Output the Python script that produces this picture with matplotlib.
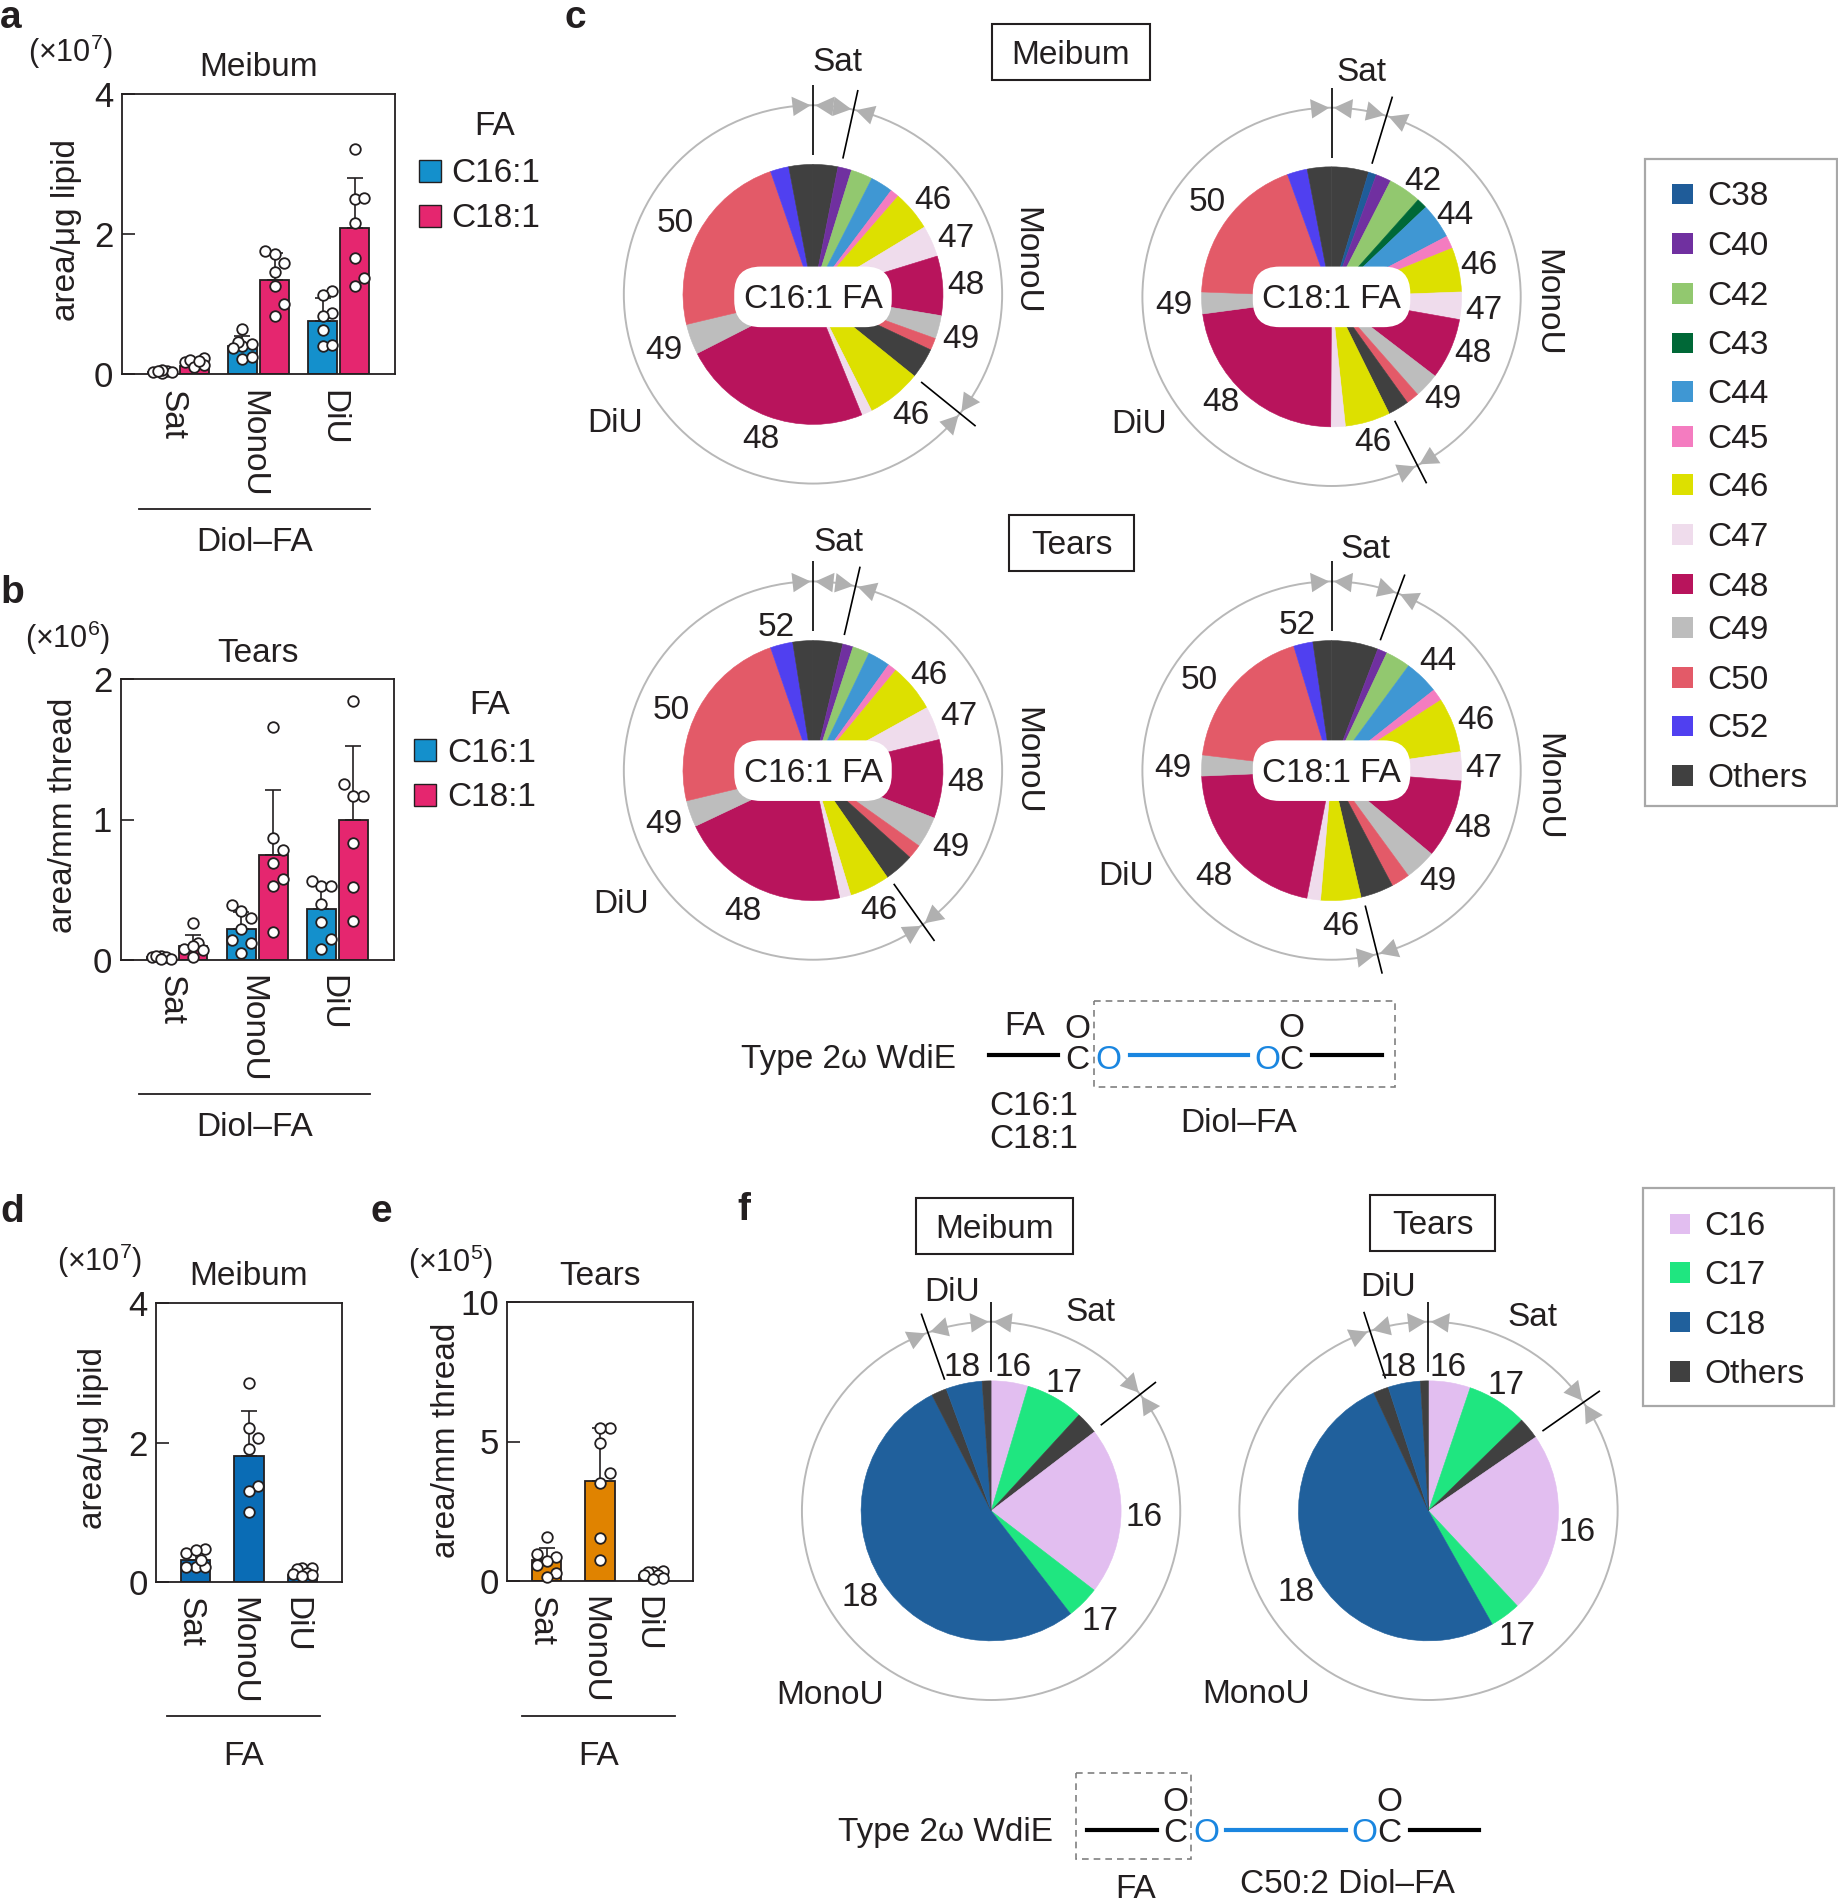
#!/usr/bin/python3

import numpy as np
import matplotlib
matplotlib.use('Agg')
import matplotlib.pyplot as plt
from matplotlib.patches import Rectangle, FancyBboxPatch, Circle, Polygon

plt.rcParams['font.family'] = ['Liberation Sans', 'DejaVu Sans']
plt.rcParams['mathtext.fontset'] = 'custom'
plt.rcParams['mathtext.rm'] = 'Liberation Sans'
plt.rcParams['mathtext.default'] = 'regular'

W, H = 1838, 1900
VIEW_W, VIEW_H = 1517, 1568     # overlay texts are placed in this coordinate system
S = W / VIEW_W
INK = '#231f20'
FS = 24

groups = ['Sat', 'MonoU', 'DiU']

# panel a, meibum, x1e7
a_c16_mean = [0.03, 0.41, 0.76]
a_c16_err = [0.02, 0.14, 0.33]
a_c16_pts = [[0.05, 0.04, 0.02, 0.03, 0.06, 0.05],
             [0.64, 0.41, 0.46, 0.44, 0.38, 0.22, 0.25],
             [1.19, 1.13, 0.88, 0.83, 0.63, 0.41, 0.42]]
a_c18_mean = [0.12, 1.35, 2.08]
a_c18_err = [0.07, 0.38, 0.72]
a_c18_pts = [[0.24, 0.17, 0.21, 0.11, 0.14, 0.19],
             [1.76, 1.71, 1.59, 1.46, 1.26, 1.0, 0.83],
             [3.21, 2.5, 2.51, 2.16, 1.66, 1.26, 1.37]]

# panel b, tears, x1e6
b_c16_mean = [0.02, 0.22, 0.36]
b_c16_err = [0.01, 0.12, 0.18]
b_c16_pts = [[0.02, 0.03, 0.03, 0.02, 0.01, 0.01],
             [0.39, 0.35, 0.3, 0.22, 0.14, 0.12, 0.05],
             [0.56, 0.53, 0.53, 0.4, 0.27, 0.15, 0.08]]
b_c18_mean = [0.1, 0.75, 1.0]
b_c18_err = [0.08, 0.46, 0.52]
b_c18_pts = [[0.26, 0.12, 0.08, 0.07, 0.02, 0.1],
             [1.66, 0.87, 0.78, 0.69, 0.58, 0.53, 0.2],
             [1.84, 1.25, 1.17, 1.17, 0.83, 0.52, 0.28]]

# panel d, meibum, x1e7
d_mean = [0.31, 1.80, 0.1]
d_err = [0.1, 0.65, 0.04]
d_pts = [[0.41, 0.47, 0.46, 0.22, 0.22, 0.22, 0.32],
         [2.85, 2.21, 2.07, 1.9, 1.37, 1.31, 1.0],
         [0.2, 0.2, 0.18, 0.13, 0.12, 0.1, 0.09]]

# panel e, tears, x1e5
e_mean = [0.74, 3.59, 0.2]
e_err = [0.46, 1.91, 0.1]
e_pts = [[1.56, 0.95, 0.85, 0.71, 0.58, 0.3, 0.16],
         [5.5, 5.5, 4.96, 3.86, 3.52, 1.53, 0.75],
         [0.35, 0.33, 0.32, 0.22, 0.2, 0.12, 0.07]]

# pie shares in percent, clockwise from the top
c_colors = {'C38': '#1f5c99', 'C40': '#7030a0', 'C42': '#92c86f', 'C43': '#006837',
            'C44': '#3f97d3', 'C45': '#f47cc0', 'C46': '#dde000', 'C47': '#efdcec',
            'C48': '#b8145c', 'C49': '#bdbdbd', 'C50': '#e35a68', 'C52': '#5040f0',
            'Others': '#404040'}
c_legend = ['C38', 'C40', 'C42', 'C43', 'C44', 'C45', 'C46', 'C47', 'C48', 'C49',
            'C50', 'C52', 'Others']
c_legend_y = [160, 201, 242, 283, 323, 360, 400, 441, 482, 518, 559, 599, 640]

f_colors = {'C16': '#e2bef0', 'C17': '#1fe680', 'C18': '#20609c', 'Others': '#404040'}
f_legend = ['C16', 'C17', 'C18', 'Others']
f_legend_y = [1010, 1050, 1091, 1132]

keys_c16 = ['Others', 'C40', 'C42', 'C44', 'C45', 'C46', 'C47', 'C48', 'C49', 'C50',
            'Others', 'C46', 'C47', 'C48', 'C49', 'C50', 'C52', 'Others']
keys_c18_meibum = ['Others', 'C38', 'C40', 'C42', 'C43', 'C44', 'C45', 'C46', 'C47', 'C48',
                   'C49', 'C50', 'Others', 'C46', 'C47', 'C48', 'C49', 'C50', 'C52', 'Others']
keys_f = ['C16', 'C17', 'Others', 'C16', 'C17', 'C18', 'Others', 'C18', 'Others']

meibum_c16 = [3.1, 1.7, 2.7, 2.8, 1.1, 5.0, 3.9, 7.4, 2.9, 1.5, 3.8, 6.8, 1.3, 23.7, 3.8, 23.5, 2.3, 3.0]
meibum_c18 = [4.6, 1.0, 1.9, 4.1, 1.3, 4.4, 1.6, 5.5, 3.4, 7.6, 3.1, 1.6, 2.6, 5.6, 1.8, 22.8, 2.7, 18.9, 2.5, 3.0]
tears_c16 = [3.7, 1.3, 2.1, 2.8, 1.1, 6.0, 4.2, 9.8, 3.9, 1.8, 3.7, 5.0, 1.4, 21.3, 3.3, 23.5, 2.8, 2.5]
tears_c18 = [5.8, 1.2, 3.1, 4.3, 1.5, 6.8, 3.6, 9.8, 3.9, 2.3, 4.1, 5.0, 1.7, 21.3, 2.6, 18.4, 2.4, 2.3]
f_meibum = [4.6, 7.2, 2.8, 20.8, 4.1, 52.9, 1.9, 4.5, 1.1]
f_tears = [5.2, 7.5, 2.7, 22.6, 3.8, 51.2, 1.9, 4.0, 1.0]

# class borders on the ring, degrees clockwise from the top
borders_meibum_c16 = [0, 12.4, 129]
borders_meibum_c18 = [0, 16.9, 153]
borders_tears_c16 = [0, 13, 144.5]
borders_tears_c18 = [0, 20.5, 166]
borders_f_meibum = [0, 52, 340.5]
borders_f_tears = [0, 55, 342]


fig = plt.figure(figsize=(W / 100, H / 100), dpi=100, facecolor='white')


def box_axes(x0, y0, x1, y1):
    # box in figure pixels, y going down
    return fig.add_axes([x0 / W, 1 - y1 / H, (x1 - x0) / W, (y1 - y0) / H])


def swarm(vals, ax, d=9.5, dy_min=13):
    # points stay inside three columns and overlap when crowded, like the original
    pos = ax.get_position()
    y_px = pos.height * H / (ax.get_ylim()[1] - ax.get_ylim()[0])
    x_px = pos.width * W / (ax.get_xlim()[1] - ax.get_xlim()[0])
    vals = np.asarray(vals, dtype=float)
    offs = np.zeros(len(vals))
    done = []
    for i in np.argsort(vals):
        best, best_gap = 0, -1
        for k in [0, 1, -1, 0.5, -0.5]:
            gap = 9.9
            for j in done:
                dx = (k * d - offs[j]) / d
                dy = (vals[i] - vals[j]) * y_px / dy_min
                gap = min(gap, dx * dx + dy * dy)
            if gap >= 0.99:
                best = k
                break
            if gap > best_gap:
                best, best_gap = k, gap
        offs[i] = best * d
        done.append(i)
    return offs / x_px


def draw_bars(ax, xs, means, errs, pts, color, width):
    ax.bar(xs, means, width=width, color=color, edgecolor=INK, linewidth=1.3, zorder=2)
    for x, m, e, p in zip(xs, means, errs, pts):
        ax.errorbar([x], [m], yerr=[[0], [e]], color=INK, elinewidth=1.2, capsize=5.5,
                    capthick=1.2, zorder=3)
        ax.scatter(x + swarm(p, ax), p, s=58, facecolor='white', edgecolor=INK,
                   linewidth=1.3, zorder=4, clip_on=False)


def style_axes(ax, xlim, ymax, ticks):
    ax.set_xlim(*xlim)
    ax.set_ylim(0, ymax)
    ax.set_yticks(ticks)
    ax.set_yticklabels([str(t) for t in ticks], fontsize=FS + 1, color=INK)
    # labels sit about 6 px left of the group centres; ticks have no length
    shift = 6 * (xlim[1] - xlim[0]) / (ax.get_position().width * W)
    ax.set_xticks(np.arange(3) - shift)
    ax.set_xticklabels(groups, rotation=-90, fontsize=FS, color=INK, ha='center', va='top')
    ax.tick_params(axis='x', length=0, pad=11)
    ax.tick_params(axis='y', direction='in', length=9.5, width=1.2, pad=6, color=INK)
    for sp in ax.spines.values():
        sp.set_linewidth(1.3)
        sp.set_color(INK)


# bar panels
ax_a = box_axes(121.7, 93.6, 395.3, 374.4)
style_axes(ax_a, (-0.706, 2.706), 4, [0, 2, 4])
draw_bars(ax_a, np.arange(3) - 0.2, a_c16_mean, a_c16_err, a_c16_pts, '#1490cc', 0.358)
draw_bars(ax_a, np.arange(3) + 0.2, a_c18_mean, a_c18_err, a_c18_pts, '#e5266f', 0.358)

ax_b = box_axes(120.5, 679, 394, 960)
style_axes(ax_b, (-0.706, 2.706), 2, [0, 1, 2])
draw_bars(ax_b, np.arange(3) - 0.2, b_c16_mean, b_c16_err, b_c16_pts, '#1490cc', 0.358)
draw_bars(ax_b, np.arange(3) + 0.2, b_c18_mean, b_c18_err, b_c18_pts, '#e5266f', 0.358)

ax_d = box_axes(156, 1303, 342, 1582)
style_axes(ax_d, (-0.75, 2.75), 4, [0, 2, 4])
draw_bars(ax_d, np.arange(3), d_mean, d_err, d_pts, '#0a6cb5', 0.55)

ax_e = box_axes(507, 1302, 693, 1581)
style_axes(ax_e, (-0.75, 2.75), 10, [0, 5, 10])
draw_bars(ax_e, np.arange(3), e_mean, e_err, e_pts, '#e08300', 0.55)


def draw_pie(cx, cy, sizes, keys, palette, borders):
    # cx, cy in overlay coordinates; pie radius is 130 figure pixels
    half = 1.7 * 130
    ax = box_axes(cx * S - half, cy * S - half, cx * S + half, cy * S + half)
    wedges, _ = ax.pie(sizes, colors=[palette[k] for k in keys], startangle=90, counterclock=False,
                       radius=1)
    for w in wedges:
        w.set_edgecolor(w.get_facecolor())
        w.set_linewidth(0.4)
    ax.set_xlim(-1.7, 1.7)
    ax.set_ylim(-1.7, 1.7)
    ax.set_aspect('equal')
    ax.axis('off')
    ax.add_patch(Circle((0, 0), 1.455, fill=False, edgecolor='#b8b8b8', linewidth=1.4))
    for b in borders:
        t = np.radians(b)
        u = np.array([np.sin(t), np.cos(t)])
        ax.plot([1.07 * u[0], 1.61 * u[0]], [1.07 * u[1], 1.61 * u[1]], color='black',
                linewidth=1.2, solid_capstyle='butt', zorder=5, clip_on=False)
        for side in (-1, 1):
            tip_a = t + side * 0.012
            base_a = t + side * (0.012 + 0.14 / 1.455)
            tip = 1.455 * np.array([np.sin(tip_a), np.cos(tip_a)])
            base = 1.455 * np.array([np.sin(base_a), np.cos(base_a)])
            n = np.array([np.sin(base_a), np.cos(base_a)]) * 0.075
            ax.add_patch(Polygon([tip, base + n, base - n], closed=True, facecolor='#b0b0b0',
                                 edgecolor='none', zorder=4))


draw_pie(671, 243, meibum_c16, keys_c16, c_colors, borders_meibum_c16)
draw_pie(1099, 245, meibum_c18, keys_c18_meibum, c_colors, borders_meibum_c18)
draw_pie(671, 636, tears_c16, keys_c16, c_colors, borders_tears_c16)
draw_pie(1099, 636, tears_c18, keys_c16, c_colors, borders_tears_c18)
draw_pie(818, 1247, f_meibum, keys_f, f_colors, borders_f_meibum)
draw_pie(1179, 1247, f_tears, keys_f, f_colors, borders_f_tears)

# overlay for texts, frames and structure sketches
ov = fig.add_axes([0, 0, 1, 1], facecolor='none', zorder=10)
ov.set_xlim(0, VIEW_W)
ov.set_ylim(VIEW_H, 0)
ov.axis('off')


def txt(x, y, s, size=FS, color=INK, **kw):
    rot = kw.get('rotation', 0)
    if rot == 90:
        x += 2.5
    elif rot == -90:
        x -= 3.5
        y += 2
    else:
        y += 2.5
    ov.text(x, y, s, fontsize=size, color=color, ha=kw.pop('ha', 'center'),
            va=kw.pop('va', 'center'), **kw)


for x, y, s in [(9, 12, 'a'), (475, 12, 'c'), (10, 487, 'b'), (10, 998, 'd'), (315, 998, 'e'),
                (614, 996, 'f')]:
    txt(x, y, s, size=28, fontweight='bold')

# bar panel annotations
txt(58, 40, '(×10$^{7}$)', size=22)
txt(56, 524, '(×10$^{6}$)', size=22)
txt(82, 1038, '(×10$^{7}$)', size=22)
txt(372, 1039, '(×10$^{5}$)', size=22)
txt(213, 53, 'Meibum')
txt(213, 537, 'Tears')
txt(205, 1051, 'Meibum')
txt(495, 1051, 'Tears')
txt(52, 190, 'area/μg lipid', rotation=90)
txt(50, 673, 'area/mm thread', rotation=90)
txt(75, 1187, 'area/μg lipid', rotation=90)
txt(366, 1189, 'area/mm thread', rotation=90)
for x0, x1, y in [(115, 305, 420), (115, 305, 903), (138, 264, 1416.5), (431, 557, 1416.5)]:
    ov.plot([x0, x1], [y, y], color=INK, linewidth=1.3)
txt(210, 445, 'Diol–FA')
txt(210, 928, 'Diol–FA')
txt(201, 1447, 'FA')
txt(494, 1447, 'FA')

for fx, px, tx, ys in [(408, 355, 409, (102, 141, 178)), (404, 351, 406, (580, 619, 656))]:
    txt(fx, ys[0], 'FA')
    for yy, col, lab in zip(ys[1:], ['#1490cc', '#e5266f'], ['C16:1', 'C18:1']):
        ov.add_patch(Rectangle((px - 9, yy - 9), 18, 18, facecolor=col, edgecolor=INK, linewidth=1))
        txt(tx, yy, lab)

# pie centre labels
for x, y, s in [(671, 245, 'C16:1 FA'), (1099, 245, 'C18:1 FA'), (671, 636, 'C16:1 FA'),
                (1099, 636, 'C18:1 FA')]:
    ov.add_patch(FancyBboxPatch((x - 65, y - 25), 130, 50,
                                boxstyle='round,pad=0,rounding_size=22', facecolor='white',
                                edgecolor='none'))
    txt(x, y, s)

for x0, y0, x1, y1, s in [(819, 20, 949, 66, 'Meibum'), (833, 425, 936, 471, 'Tears'),
                          (756, 989, 886, 1035, 'Meibum'), (1131, 986, 1234, 1032, 'Tears')]:
    ov.add_patch(Rectangle((x0, y0), x1 - x0, y1 - y0, fill=False, edgecolor=INK, linewidth=1.5))
    txt((x0 + x1) / 2, (y0 + y1) / 2, s)

pie_labels = [
    (691, 49, 'Sat'), (1124, 57, 'Sat'), (692, 445, 'Sat'), (1127, 451, 'Sat'),
    (508, 347, 'DiU'), (940, 348, 'DiU'), (513, 744, 'DiU'), (929, 721, 'DiU'),
    (770, 163, '46'), (789, 194, '47'), (797, 233, '48'), (793, 278, '49'), (752, 340, '46'),
    (628, 360, '48'), (548, 287, '49'), (557, 182, '50'),
    (1174, 147, '42'), (1201, 175, '44'), (1221, 217, '46'), (1225, 254, '47'), (1216, 289, '48'),
    (1191, 327, '49'), (1133, 363, '46'), (1008, 330, '48'), (969, 250, '49'), (996, 165, '50'),
    (641, 515, '52'), (767, 555, '46'), (791, 589, '47'), (797, 643, '48'), (785, 697, '49'),
    (725, 749, '46'), (613, 750, '48'), (548, 678, '49'), (554, 584, '50'),
    (1071, 514, '52'), (1187, 543, '44'), (1218, 592, '46'), (1225, 632, '47'), (1216, 681, '48'),
    (1187, 725, '49'), (1107, 762, '46'), (1002, 721, '48'), (968, 632, '49'), (990, 559, '50'),
    (786, 1064, 'DiU'), (900, 1081, 'Sat'), (1146, 1060, 'DiU'), (1265, 1085, 'Sat'),
    (685, 1397, 'MonoU'), (1037, 1396, 'MonoU'),
    (794, 1126, '18'), (836, 1126, '16'), (878, 1139, '17'), (944, 1250, '16'), (908, 1336, '17'),
    (710, 1316, '18'),
    (1154, 1126, '18'), (1195, 1126, '16'), (1243, 1141, '17'), (1302, 1262, '16'),
    (1252, 1348, '17'), (1070, 1312, '18'),
]
for x, y, s in pie_labels:
    txt(x, y, s)
for x, y in [(850, 213), (1280, 248), (851, 626), (1281, 647)]:
    txt(x, y, 'MonoU', rotation=-90)

# legends
ov.add_patch(Rectangle((1358, 131), 158, 534, fill=False, edgecolor='#a8a8a8', linewidth=1.6))
for k, y in zip(c_legend, c_legend_y):
    ov.add_patch(Rectangle((1380, y - 8.5), 17, 17, facecolor=c_colors[k], edgecolor='none'))
    txt(1409, y, k, ha='left')
ov.add_patch(Rectangle((1356, 980), 158, 180, fill=False, edgecolor='#a8a8a8', linewidth=1.6))
for k, y in zip(f_legend, f_legend_y):
    ov.add_patch(Rectangle((1378, y - 8.5), 17, 17, facecolor=f_colors[k], edgecolor='none'))
    txt(1407, y, k, ha='left')

# structure sketches
BLUE = '#1a86e0'
txt(700, 872, 'Type 2ω WdiE')
txt(846, 845, 'FA')
txt(889, 847, 'O')
txt(889, 873, 'C')
txt(915, 873, 'O', color=BLUE)
txt(1046, 873, 'O', color=BLUE)
txt(1066, 873, 'C')
txt(1066, 846, 'O')
ov.plot([816, 873], [871, 871], color='black', linewidth=3)
ov.plot([1083, 1141], [871, 871], color='black', linewidth=3)
ov.plot([933, 1030], [871, 871], color=BLUE, linewidth=3)
ov.add_patch(Rectangle((903, 826), 248, 71, fill=False, edgecolor='#808080', linewidth=1.2,
                       linestyle=(0, (4, 3))))
txt(853, 911, 'C16:1')
txt(853, 938, 'C18:1')
txt(1022, 925, 'Diol–FA')

txt(780, 1510, 'Type 2ω WdiE')
ov.plot([897, 955], [1510, 1510], color='black', linewidth=3)
ov.plot([1164, 1221], [1510, 1510], color='black', linewidth=3)
ov.plot([1012, 1111], [1510, 1510], color=BLUE, linewidth=3)
txt(970, 1485, 'O')
txt(970, 1511, 'C')
txt(996, 1511, 'O', color=BLUE)
txt(1126, 1511, 'O', color=BLUE)
txt(1147, 1511, 'C')
txt(1147, 1485, 'O')
ov.add_patch(Rectangle((888, 1463), 95, 71, fill=False, edgecolor='#808080', linewidth=1.2,
                       linestyle=(0, (4, 3))))
txt(937, 1557, 'FA')
txt(1112, 1553, 'C50:2 Diol–FA')

fig.savefig('out.png', dpi=100, facecolor='white')
